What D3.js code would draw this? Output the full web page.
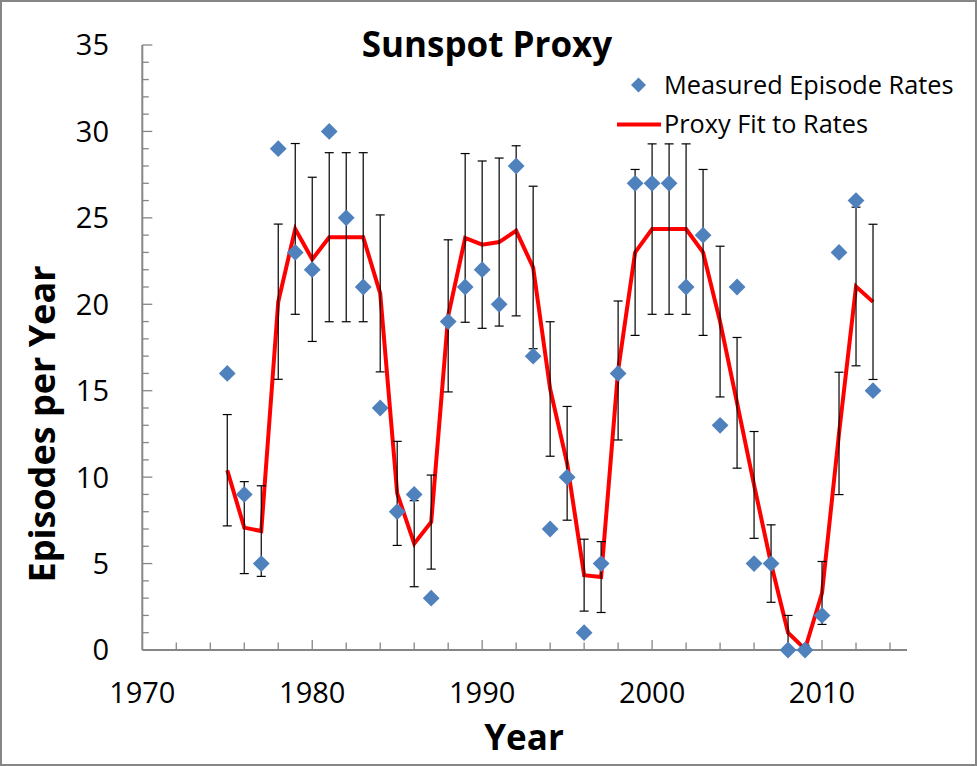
<!DOCTYPE html>
<html>
<head>
<meta charset="utf-8">
<script src="https://cdn.jsdelivr.net/npm/d3@7"></script>
<style>
  html, body { margin: 0; padding: 0; background: #fff; }
  svg text { font-family: "Open Sans", sans-serif; fill: #000; }
</style>
</head>
<body>
<div id="chart"></div>
<script>
// years of the record
const years = [1975, 1976, 1977, 1978, 1979, 1980, 1981, 1982, 1983, 1984,
  1985, 1986, 1987, 1988, 1989, 1990, 1991, 1992, 1993, 1994,
  1995, 1996, 1997, 1998, 1999, 2000, 2001, 2002, 2003, 2004,
  2005, 2006, 2007, 2008, 2009, 2010, 2011, 2012, 2013];

// measured episode rates (diamonds)
const measured = [16, 9, 5, 29, 23, 22, 30, 25, 21, 14,
  8, 9, 3, 19, 21, 22, 20, 28, 17, 7,
  10, 1, 5, 16, 27, 27, 27, 21, 24, 13,
  21, 5, 5, 0, 0, 2, 23, 26, 15];

// proxy fit (red line)
const fit = [10.4, 7.08, 6.88, 20.15, 24.36, 22.6, 23.88, 23.88, 23.88, 20.63,
  9.06, 6.15, 7.4, 19.33, 23.84, 23.45, 23.6, 24.25, 22.13, 15.1,
  10.8, 4.33, 4.22, 16.17, 23.0, 24.35, 24.35, 24.35, 23.0, 19.0,
  14.3, 9.55, 5.0, 1.0, 0.05, 3.3, 12.53, 21.03, 20.14];

// half length of the error bars on the fit
const fitErr = [3.22, 2.66, 2.62, 4.49, 4.94, 4.75, 4.89, 4.89, 4.89, 4.54,
  3.01, 2.49, 2.72, 4.40, 4.88, 4.84, 4.86, 4.92, 4.70, 3.89,
  3.29, 2.08, 2.05, 4.02, 4.80, 4.93, 4.93, 4.93, 4.80, 4.36,
  3.78, 3.09, 2.24, 1.0, 0.22, 1.82, 3.54, 4.59, 4.49];

const xTicks = [1970, 1980, 1990, 2000, 2010];
const yTicks = [0, 5, 10, 15, 20, 25, 30, 35];

const legendLabels = ['Measured Episode Rates', 'Proxy Fit to Rates'];

const W = 977, H = 766;
const axisColor = '#868686';

const svg = d3.select('#chart').append('svg')
  .attr('width', W)
  .attr('height', H);

// outer frame
svg.append('rect')
  .attr('x', 1).attr('y', 1)
  .attr('width', W - 2).attr('height', H - 2)
  .attr('fill', '#fff')
  .attr('stroke', axisColor)
  .attr('stroke-width', 2);

const x = d3.scaleLinear().domain([1970, 2015]).range([142.3, 907]);
const y = d3.scaleLinear().domain([0, 35]).range([650, 45]);

const rows = years.map((yr, i) => ({
  year: yr, value: measured[i], fit: fit[i], err: fitErr[i]
}));

// minor ticks, drawn inward
svg.append('g')
  .selectAll('line')
  .data(d3.range(0, 36))
  .enter().append('line')
  .attr('x1', x(1970)).attr('x2', d => x(1970) + (d % 5 === 0 ? 10 : 6.5))
  .attr('y1', d => y(d)).attr('y2', d => y(d))
  .attr('stroke', axisColor).attr('stroke-width', 1.3);

svg.append('g')
  .selectAll('line')
  .data(d3.range(1972, 2016, 2))
  .enter().append('line')
  .attr('x1', d => x(d)).attr('x2', d => x(d))
  .attr('y1', y(0)).attr('y2', d => y(0) - (d % 10 === 0 ? 10 : 7.5))
  .attr('stroke', axisColor).attr('stroke-width', 1.3);

// axis lines
svg.append('line')
  .attr('x1', x(1970)).attr('x2', x(1970))
  .attr('y1', y(35)).attr('y2', y(0))
  .attr('stroke', axisColor).attr('stroke-width', 2);
svg.append('line')
  .attr('x1', x(1970)).attr('x2', x(2015))
  .attr('y1', y(0)).attr('y2', y(0))
  .attr('stroke', axisColor).attr('stroke-width', 2);

// tick labels
svg.append('g')
  .selectAll('text')
  .data(yTicks)
  .enter().append('text')
  .attr('x', 109)
  .attr('y', d => y(d))
  .attr('dy', '0.36em')
  .attr('text-anchor', 'end')
  .style('font-size', '29px')
  .text(d => d);

svg.append('g')
  .selectAll('text')
  .data(xTicks)
  .enter().append('text')
  .attr('x', d => x(d))
  .attr('y', 703)
  .attr('text-anchor', 'middle')
  .style('font-size', '29px')
  .text(d => d);

// titles
svg.append('text')
  .attr('x', 487).attr('y', 57)
  .attr('text-anchor', 'middle')
  .style('font-size', '35px')
  .style('font-weight', 'bold')
  .text('Sunspot Proxy');

svg.append('text')
  .attr('x', 524).attr('y', 750)
  .attr('text-anchor', 'middle')
  .style('font-size', '35px')
  .style('font-weight', 'bold')
  .text('Year');

svg.append('text')
  .attr('transform', 'translate(55,424) rotate(-90)')
  .attr('text-anchor', 'middle')
  .style('font-size', '36px')
  .style('font-weight', 'bold')
  .text('Episodes per Year');

// fit line
const line = d3.line()
  .x(d => x(d.year))
  .y(d => y(d.fit));

svg.append('path')
  .datum(rows)
  .attr('d', line)
  .attr('fill', 'none')
  .attr('stroke', '#ff0000')
  .attr('stroke-width', 4)
  .attr('stroke-linejoin', 'miter');

// error bars on the fit
const bars = svg.append('g')
  .selectAll('g')
  .data(rows)
  .enter().append('g')
  .attr('stroke', '#000')
  .attr('stroke-width', 1.2);

bars.append('line')
  .attr('x1', d => x(d.year)).attr('x2', d => x(d.year))
  .attr('y1', d => y(d.fit + d.err))
  .attr('y2', d => y(Math.max(0, d.fit - d.err)));
bars.append('line')
  .attr('x1', d => x(d.year) - 4.5).attr('x2', d => x(d.year) + 4.5)
  .attr('y1', d => y(d.fit + d.err)).attr('y2', d => y(d.fit + d.err));
bars.append('line')
  .attr('x1', d => x(d.year) - 4.5).attr('x2', d => x(d.year) + 4.5)
  .attr('y1', d => y(Math.max(0, d.fit - d.err)))
  .attr('y2', d => y(Math.max(0, d.fit - d.err)));

// measured diamonds
const diamond = (cx, cy, r) =>
  `M${cx},${cy - r}L${cx + r},${cy}L${cx},${cy + r}L${cx - r},${cy}Z`;

svg.append('g')
  .selectAll('path')
  .data(rows)
  .enter().append('path')
  .attr('d', d => diamond(x(d.year), y(d.value), 8.4))
  .attr('fill', '#4f81bd');

// legend
const lg = svg.append('g');
lg.append('path')
  .attr('d', diamond(638.5, 85, 7.5))
  .attr('fill', '#4f81bd');
lg.append('line')
  .attr('x1', 617).attr('x2', 661)
  .attr('y1', 124.5).attr('y2', 124.5)
  .attr('stroke', '#ff0000').attr('stroke-width', 4);
lg.selectAll('text')
  .data(legendLabels)
  .enter().append('text')
  .attr('x', 664)
  .attr('y', (d, i) => i === 0 ? 93.5 : 133)
  .style('font-size', '25.3px')
  .text(d => d);
</script>
</body>
</html>
